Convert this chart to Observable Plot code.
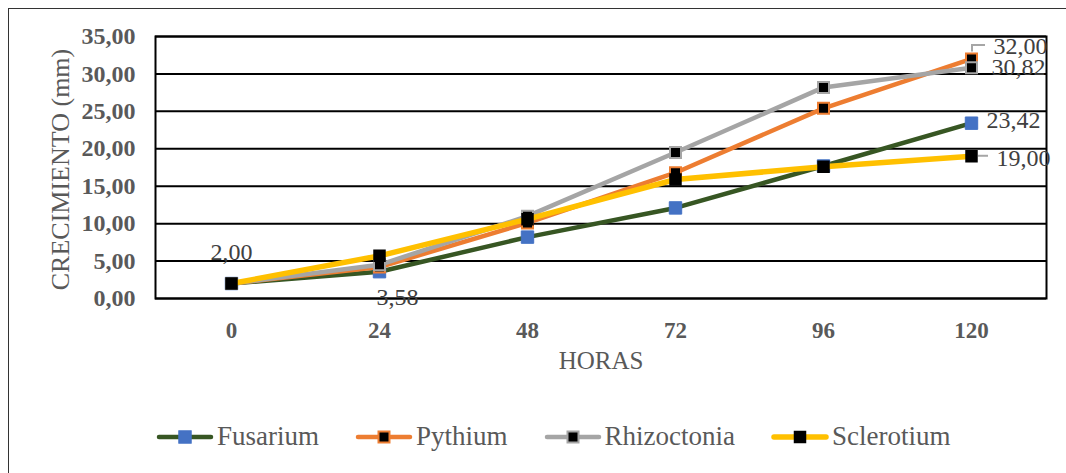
<!DOCTYPE html>
<html>
<head>
<meta charset="utf-8">
<script src="https://cdn.jsdelivr.net/npm/d3@7"></script>
<script src="https://cdn.jsdelivr.net/npm/@observablehq/plot@0.6"></script>
<style>
  html, body { margin: 0; padding: 0; background: #fff; overflow: hidden; }
  #wrap { position: relative; width: 1066px; height: 473px; overflow: hidden; }
  #border { position: absolute; left: 8px; top: 8px; width: 1100px; height: 500px; border: 1.5px solid #333; box-sizing: border-box; }
  #chart { position: absolute; left: 0; top: 0; }
  #legend { position: absolute; left: 156px; top: 421px; display: flex; align-items: center; gap: 36px;
            font-family: 'Liberation Serif', 'Times New Roman', serif; font-size: 27px; color: #595959; }
  .item { display: flex; align-items: center; gap: 3px; }
</style>
</head>
<body>
<div id="wrap">
  <div id="border"></div>
  <div id="chart"></div>
  <div id="legend"></div>
</div>
<script>
// ---- data ----
const hours = [0, 24, 48, 72, 96, 120];
const seriesNames = ["Fusarium", "Pythium", "Rhizoctonia", "Sclerotium"];
const fusarium    = [2.00, 3.58, 8.2, 12.1, 17.7, 23.42];
const pythium     = [2.00, 4.2, 10.1, 16.8, 25.4, 32.00];
const rhizoctonia = [2.00, 4.5, 11.0, 19.5, 28.2, 30.82];
const sclerotium  = [2.00, 5.7, 10.6, 15.9, 17.6, 19.00];
const yTicks = [0, 5, 10, 15, 20, 25, 30, 35];
const xTitle = "HORAS";
const yTitle = "CRECIMIENTO (mm)";
// data labels: [series, hour]
const labelPoints = [["Fusarium", 0], ["Fusarium", 24], ["Pythium", 120], ["Rhizoctonia", 120], ["Fusarium", 120], ["Sclerotium", 120]];

// ---- styles ----
const styles = {
  Fusarium:    {line: "#375623", fill: "#4472C4", stroke: "#4472C4", width: 4.5, r: 7.0, sw: 1},
  Pythium:     {line: "#ED7D31", fill: "#000000", stroke: "#ED7D31", width: 4.5, r: 6.2, sw: 2},
  Rhizoctonia: {line: "#A5A5A5", fill: "#000000", stroke: "#A5A5A5", width: 4.5, r: 6.2, sw: 2},
  Sclerotium:  {line: "#FFC000", fill: "#000000", stroke: "#000000", width: 5.5, r: 6.2, sw: 1.5}
};
const labelOffsets = {
  "Fusarium|0":      {dx: 0,  dy: -31, anchor: "middle"},
  "Fusarium|24":     {dx: 18, dy: 26,  anchor: "middle"},
  "Pythium|120":     {dx: 22, dy: -13, anchor: "start"},
  "Rhizoctonia|120": {dx: 20, dy: 0,   anchor: "start"},
  "Fusarium|120":    {dx: 15, dy: -3,  anchor: "start"},
  "Sclerotium|120":  {dx: 25, dy: 2,   anchor: "start"}
};

const valuesBy = {Fusarium: fusarium, Pythium: pythium, Rhizoctonia: rhizoctonia, Sclerotium: sclerotium};
const tables = {};
for (const s of seriesNames) tables[s] = hours.map((h, i) => ({series: s, hour: h, value: valuesBy[s][i]}));
const fmt = v => v.toFixed(2).replace(".", ",");

const serif = "'Liberation Serif', 'Times New Roman', serif";
const marks = [
  Plot.gridY(yTicks, {stroke: "#000", strokeOpacity: 1, strokeWidth: 2}),
  Plot.frame({stroke: "#000", strokeWidth: 2}),
  Plot.axisY(yTicks, {tickSize: 0, tickPadding: 20, tickFormat: fmt, fontSize: 24, fontWeight: "bold", fill: "#595959", label: null}),
  Plot.axisX(hours, {tickSize: 0, tickPadding: 23, fontSize: 23, fontWeight: "bold", fill: "#595959", label: null}),
  Plot.text([xTitle], {frameAnchor: "bottom", dy: 70, fontSize: 25, fill: "#595959"}),
  Plot.text([yTitle], {frameAnchor: "left", textAnchor: "middle", lineAnchor: "middle", dx: -95, dy: 2, rotate: -90, fontSize: 26, fill: "#595959"})
];
for (const s of seriesNames) {
  const st = styles[s];
  marks.push(Plot.line(tables[s], {x: "hour", y: "value", stroke: st.line, strokeWidth: st.width, strokeLinejoin: "round"}));
  marks.push(Plot.dot(tables[s], {x: "hour", y: "value", symbol: "square", r: st.r, fill: st.fill, stroke: st.stroke, strokeWidth: st.sw}));
}
// leader lines for two labels
marks.push((index, scales) => {
  const g = d3.create("svg:g").attr("stroke", "#A6A6A6").attr("stroke-width", 2).attr("fill", "none");
  const xs = scales.x(120);
  const yP = scales.y(pythium[5]);
  g.append("path").attr("d", `M${xs + 1},${yP - 7}V${yP - 13.5}H${xs + 14}`);
  const yS = scales.y(sclerotium[5]);
  g.append("path").attr("d", `M${xs + 7},${yS}H${xs + 17}`);
  return g.node();
});
for (const [s, h] of labelPoints) {
  const o = labelOffsets[s + "|" + h];
  const v = valuesBy[s][hours.indexOf(h)];
  marks.push(Plot.text([{hour: h, value: v}], {x: "hour", y: "value", text: d => fmt(d.value), dx: o.dx, dy: o.dy, textAnchor: o.anchor, fontSize: 24, fill: "#404040"}));
}

const chart = Plot.plot({
  width: 1066,
  height: 400,
  marginLeft: 155,
  marginRight: 20,
  marginTop: 36,
  marginBottom: 102,
  style: {fontFamily: serif, background: "transparent", overflow: "visible"},
  x: {type: "point", domain: hours, padding: 0.5},
  y: {domain: [0, 35]},
  marks
});
document.getElementById("chart").appendChild(chart);

// legend
const legend = document.getElementById("legend");
for (const s of seriesNames) {
  const st = styles[s];
  const item = document.createElement("div");
  item.className = "item";
  const side = st.r * Math.sqrt(Math.PI);
  item.innerHTML = `<svg width="58" height="20" viewBox="0 0 58 20">
    <line x1="3" y1="10" x2="55" y2="10" stroke="${st.line}" stroke-width="${st.width}" stroke-linecap="round"/>
    <rect x="${29 - side / 2}" y="${10 - side / 2}" width="${side}" height="${side}" fill="${st.fill}" stroke="${st.stroke}" stroke-width="${st.sw}"/>
  </svg><span>${s}</span>`;
  legend.appendChild(item);
}
</script>
</body>
</html>
